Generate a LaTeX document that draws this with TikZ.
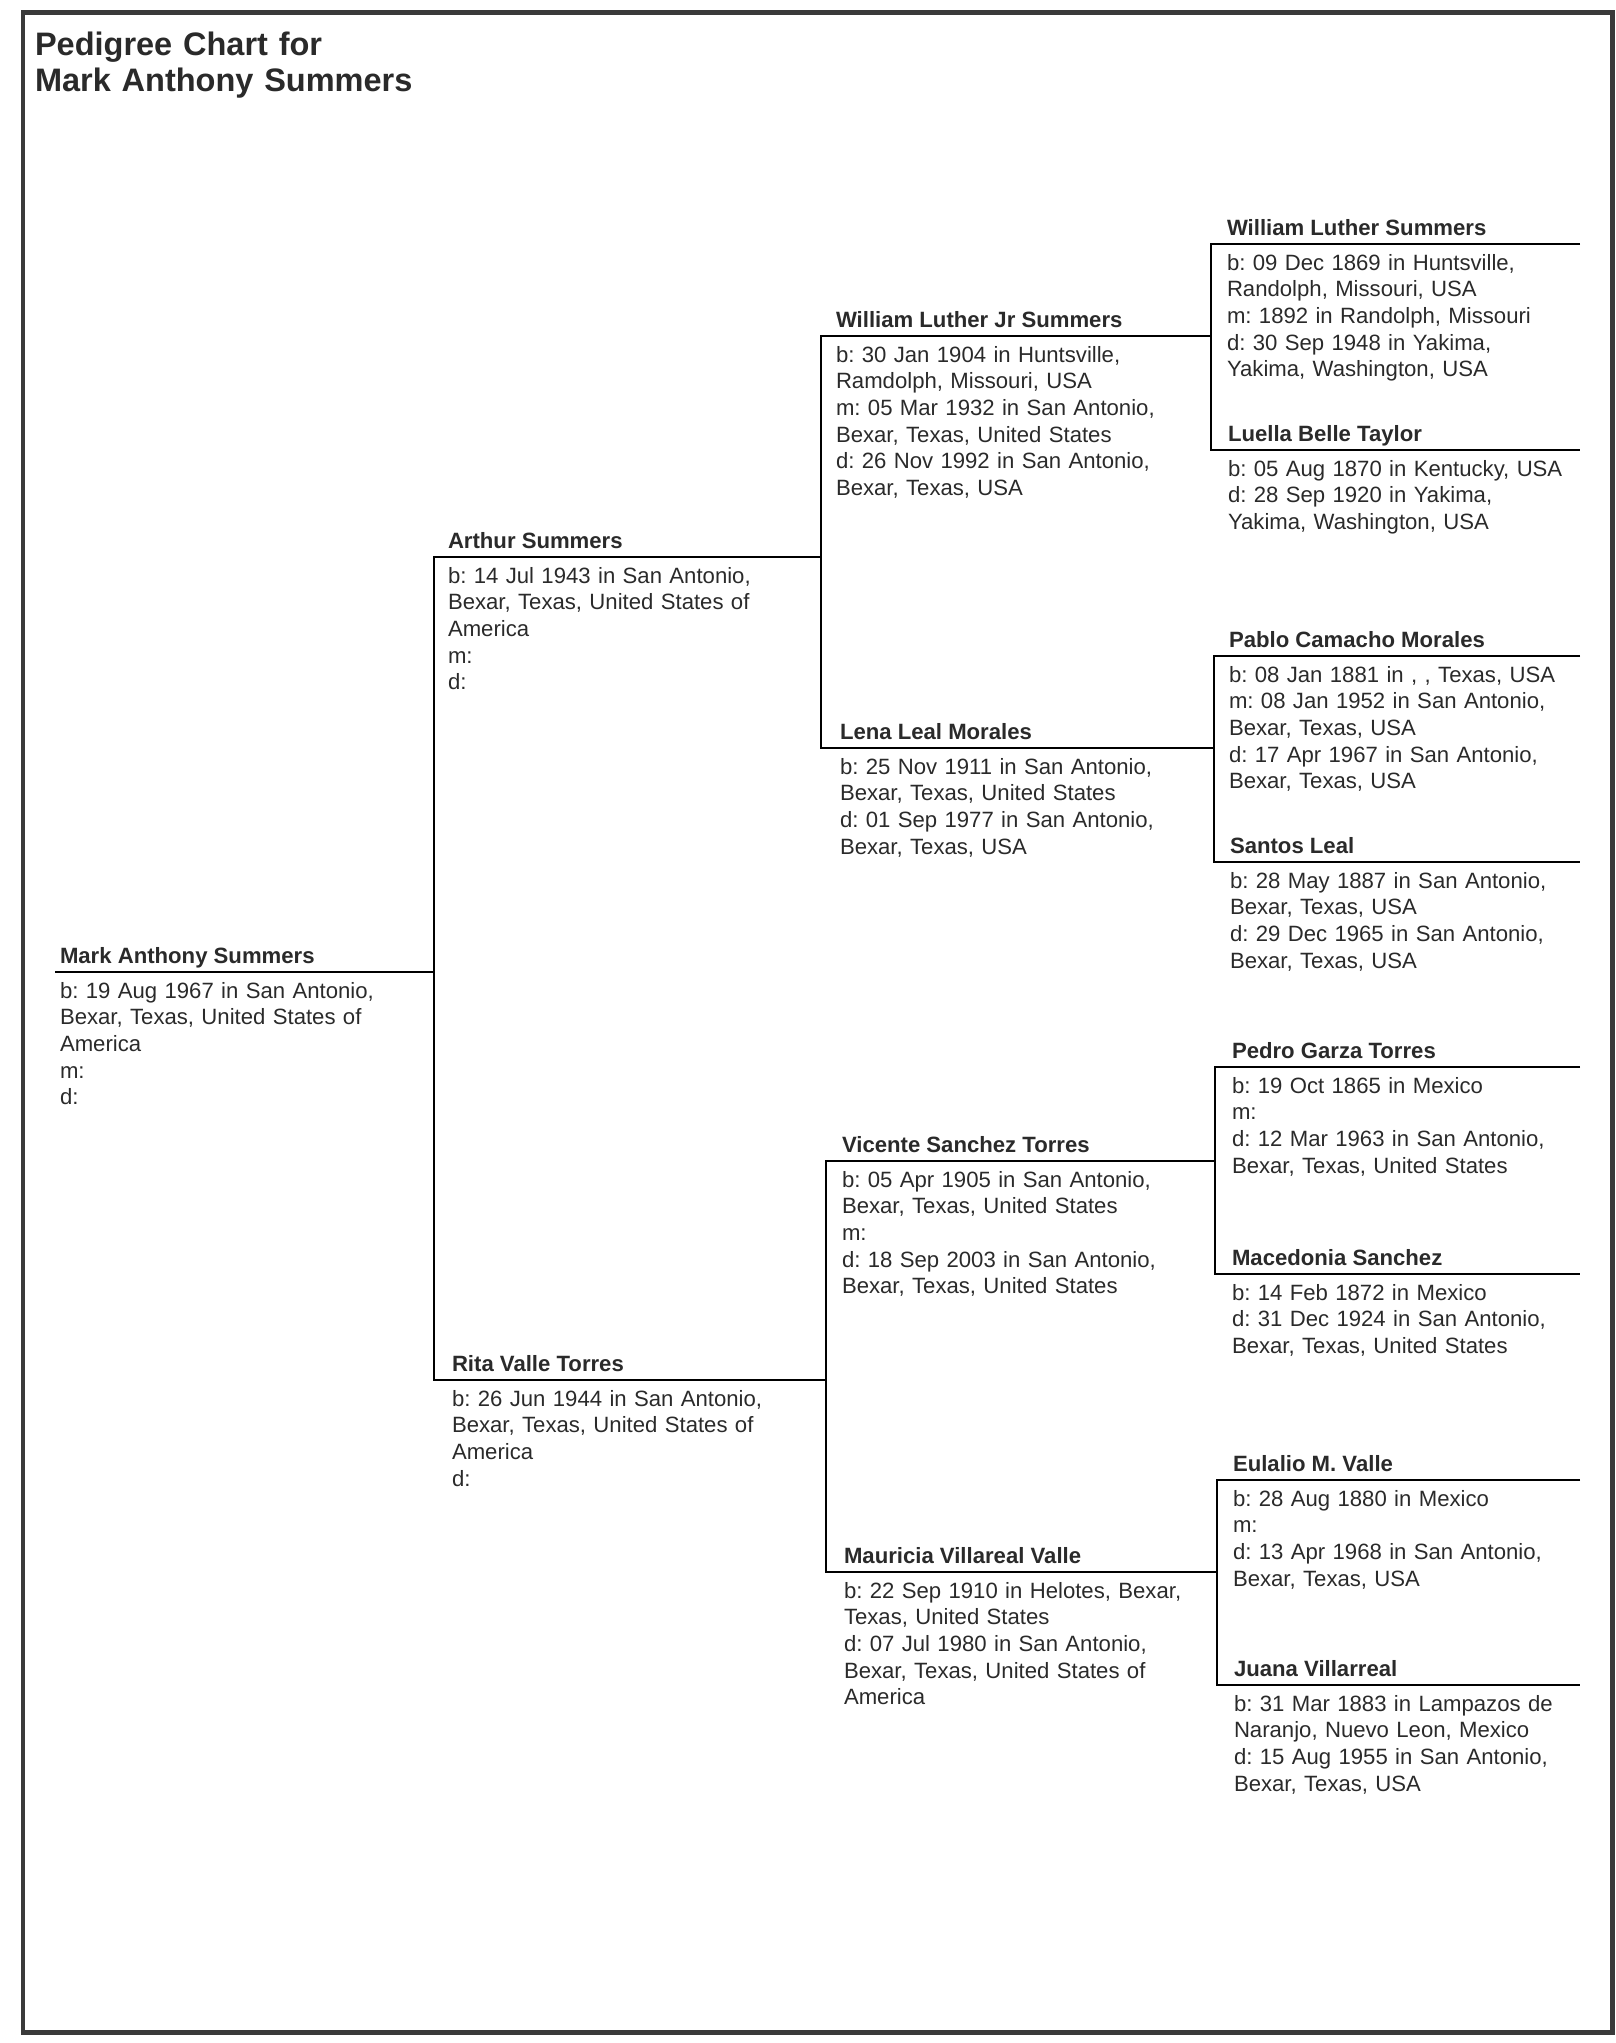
\documentclass[tikz,border=0pt]{standalone}
\usepackage{fontspec}
\setmainfont{Liberation Sans}
\usepackage{tikz}
\usetikzlibrary{positioning}

\definecolor{ink}{HTML}{2A2A2A}
\definecolor{rule}{HTML}{3A3A3A}

\newcommand{\chartfont}{\fontsize{12.6pt}{15.2pt}\selectfont\frenchspacing}

\begin{document}
\begin{tikzpicture}[x=0.02cm, y=-0.02cm,
    every node/.style={inner sep=0pt, outer sep=0pt, anchor=base west, text=ink},
    who/.style={font=\chartfont\bfseries},
    facts/.style={font=\chartfont, text width=8cm, align=left},
    tie/.style={draw=black, line width=0.04cm},
    frame/.style={draw=rule, line width=0.1cm}]
    \useasboundingbox (0,0) rectangle (1616,2043);
    \draw[frame] (23,12) rectangle (1612,2032);

    \node (title) [font=\fontsize{18.5pt}{21pt}\selectfont\bfseries, text width=12cm, align=left] at (35,55) {Pedigree Chart for\\Mark Anthony Summers};

    % line starts
    \coordinate (mark-a) at (55,972);
    \coordinate (arthur-a) at (434,557);
    \coordinate (rita-a) at (434,1380);
    \coordinate (wljr-a) at (821,336);
    \coordinate (lena-a) at (821,748);
    \coordinate (vicente-a) at (826,1161);
    \coordinate (mauricia-a) at (826,1572);
    \coordinate (wls-a) at (1211,244);
    \coordinate (luella-a) at (1211,450);
    \coordinate (pablo-a) at (1214,656);
    \coordinate (santos-a) at (1214,862);
    \coordinate (pedro-a) at (1215,1067);
    \coordinate (macedonia-a) at (1215,1274);
    \coordinate (eulalio-a) at (1217,1480);
    \coordinate (juana-a) at (1217,1685);
    \coordinate (rim) at (1580,0);

    \draw[tie] (mark-a) -- (mark-a -| arthur-a);
    \draw[tie] (arthur-a -| wljr-a) -- (arthur-a) -- (rita-a) -- (rita-a -| vicente-a);
    \draw[tie] (wljr-a -| wls-a) -- (wljr-a) -- (lena-a) -- (lena-a -| pablo-a);
    \draw[tie] (vicente-a -| pedro-a) -- (vicente-a) -- (mauricia-a) -- (mauricia-a -| eulalio-a);
    \draw[tie] (wls-a -| rim) -- (wls-a) -- (luella-a) -- (luella-a -| rim);
    \draw[tie] (pablo-a -| rim) -- (pablo-a) -- (santos-a) -- (santos-a -| rim);
    \draw[tie] (pedro-a -| rim) -- (pedro-a) -- (macedonia-a) -- (macedonia-a -| rim);
    \draw[tie] (eulalio-a -| rim) -- (eulalio-a) -- (juana-a) -- (juana-a -| rim);

    % generation 1
    \node (mark) [who] at (60,963) {Mark Anthony Summers};
    \node (mark-f) [facts] at (60,998) {b: 19 Aug 1967 in San Antonio,\\Bexar, Texas, United States of\\America\\m:\\d:};

    % generation 2
    \node (arthur) [who] at (448,548) {Arthur Summers};
    \node (arthur-f) [facts] at (448,583) {b: 14 Jul 1943 in San Antonio,\\Bexar, Texas, United States of\\America\\m:\\d:};
    \node (rita) [who] at (452,1371) {Rita Valle Torres};
    \node (rita-f) [facts] at (452,1406) {b: 26 Jun 1944 in San Antonio,\\Bexar, Texas, United States of\\America\\d:};

    % generation 3
    \node (wljr) [who] at (836,327) {William Luther Jr Summers};
    \node (wljr-f) [facts] at (836,362) {b: 30 Jan 1904 in Huntsville,\\Ramdolph, Missouri, USA\\m: 05 Mar 1932 in San Antonio,\\Bexar, Texas, United States\\d: 26 Nov 1992 in San Antonio,\\Bexar, Texas, USA};
    \node (lena) [who] at (840,739) {Lena Leal Morales};
    \node (lena-f) [facts] at (840,774) {b: 25 Nov 1911 in San Antonio,\\Bexar, Texas, United States\\d: 01 Sep 1977 in San Antonio,\\Bexar, Texas, USA};
    \node (vicente) [who] at (842,1152) {Vicente Sanchez Torres};
    \node (vicente-f) [facts] at (842,1187) {b: 05 Apr 1905 in San Antonio,\\Bexar, Texas, United States\\m:\\d: 18 Sep 2003 in San Antonio,\\Bexar, Texas, United States};
    \node (mauricia) [who] at (844,1563) {Mauricia Villareal Valle};
    \node (mauricia-f) [facts] at (844,1598) {b: 22 Sep 1910 in Helotes, Bexar,\\Texas, United States\\d: 07 Jul 1980 in San Antonio,\\Bexar, Texas, United States of\\America};

    % generation 4
    \node (wls) [who] at (1227,235) {William Luther Summers};
    \node (wls-f) [facts] at (1227,270) {b: 09 Dec 1869 in Huntsville,\\Randolph, Missouri, USA\\m: 1892 in Randolph, Missouri\\d: 30 Sep 1948 in Yakima,\\Yakima, Washington, USA};
    \node (luella) [who] at (1228,441) {Luella Belle Taylor};
    \node (luella-f) [facts] at (1228,476) {b: 05 Aug 1870 in Kentucky, USA\\d: 28 Sep 1920 in Yakima,\\Yakima, Washington, USA};
    \node (pablo) [who] at (1229,647) {Pablo Camacho Morales};
    \node (pablo-f) [facts] at (1229,682) {b: 08 Jan 1881 in , , Texas, USA\\m: 08 Jan 1952 in San Antonio,\\Bexar, Texas, USA\\d: 17 Apr 1967 in San Antonio,\\Bexar, Texas, USA};
    \node (santos) [who] at (1230,853) {Santos Leal};
    \node (santos-f) [facts] at (1230,888) {b: 28 May 1887 in San Antonio,\\Bexar, Texas, USA\\d: 29 Dec 1965 in San Antonio,\\Bexar, Texas, USA};
    \node (pedro) [who] at (1232,1058) {Pedro Garza Torres};
    \node (pedro-f) [facts] at (1232,1093) {b: 19 Oct 1865 in Mexico\\m:\\d: 12 Mar 1963 in San Antonio,\\Bexar, Texas, United States};
    \node (macedonia) [who] at (1232,1265) {Macedonia Sanchez};
    \node (macedonia-f) [facts] at (1232,1300) {b: 14 Feb 1872 in Mexico\\d: 31 Dec 1924 in San Antonio,\\Bexar, Texas, United States};
    \node (eulalio) [who] at (1233,1471) {Eulalio M. Valle};
    \node (eulalio-f) [facts] at (1233,1506) {b: 28 Aug 1880 in Mexico\\m:\\d: 13 Apr 1968 in San Antonio,\\Bexar, Texas, USA};
    \node (juana) [who] at (1234,1676) {Juana Villarreal};
    \node (juana-f) [facts] at (1234,1711) {b: 31 Mar 1883 in Lampazos de\\Naranjo, Nuevo Leon, Mexico\\d: 15 Aug 1955 in San Antonio,\\Bexar, Texas, USA};
\end{tikzpicture}
\end{document}
